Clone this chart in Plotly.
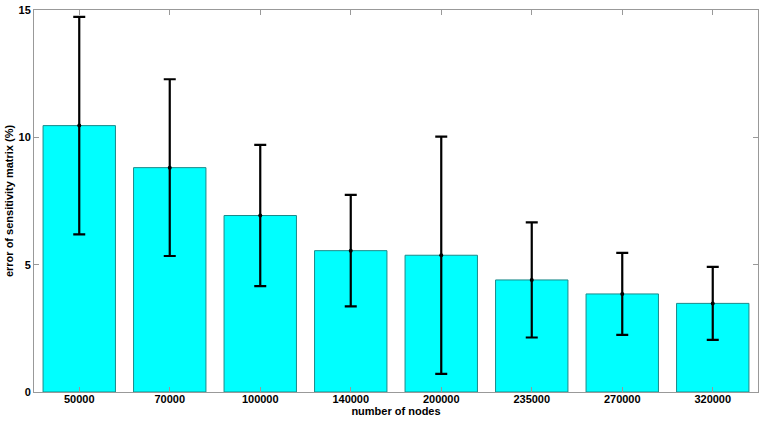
import plotly.graph_objects as go

categories = ["50000", "70000", "100000", "140000", "200000", "235000", "270000", "320000"]
error_mean = [10.46, 8.81, 6.93, 5.55, 5.37, 4.40, 3.85, 3.48]
error_std = [4.27, 3.47, 2.77, 2.19, 4.66, 2.26, 1.61, 1.43]
y_ticks = [0, 5, 10, 15]

fig = go.Figure()
fig.add_trace(go.Bar(
    x=categories, y=error_mean,
    marker=dict(color="#00FFFF", line=dict(color="#1A8A8A", width=1)),
    width=0.8,
    error_y=dict(type="data", array=error_std, visible=True, color="black", thickness=2.2, width=6),
    showlegend=False,
))
fig.add_trace(go.Scatter(
    x=categories, y=error_mean, mode="markers",
    marker=dict(color="black", size=4), showlegend=False, hoverinfo="skip",
))

ff = "Arial, Liberation Sans, sans-serif"
fig.update_layout(
    width=764, height=421,
    margin=dict(l=34, r=6, t=10, b=29),
    paper_bgcolor="white", plot_bgcolor="white",
    font=dict(family=ff, size=11, color="black"),
    bargap=0.2,
)
fig.update_xaxes(
    type="category", range=[-0.5, 7.5], automargin=False,
    showline=True, linecolor="#999999", linewidth=1, mirror="ticks",
    ticks="inside", ticklen=5, tickcolor="#999999",
    showgrid=False, ticklabelstandoff=-3,
    tickfont=dict(family=ff, size=11, color="black", weight="bold"),
    title=dict(text="number of nodes", standoff=0,
               font=dict(family=ff, size=11, color="black", weight="bold")),
)
fig.update_yaxes(
    range=[0, 15], tickvals=y_ticks, automargin=False,
    showline=True, linecolor="#999999", linewidth=1, mirror="ticks",
    ticks="inside", ticklen=5, tickcolor="#999999",
    showgrid=False, zeroline=False, ticklabeloverflow="allow",
    tickfont=dict(family=ff, size=11, color="black", weight="bold"),
    title=dict(text="error of sensitivity matrix (%)", standoff=2,
               font=dict(family=ff, size=11, color="black", weight="bold")),
)

# remove the default 8px page margin so the figure fills the window exactly
fig.write_html("out.html", config={"displayModeBar": False},
               post_script="document.body.style.margin='0';")
